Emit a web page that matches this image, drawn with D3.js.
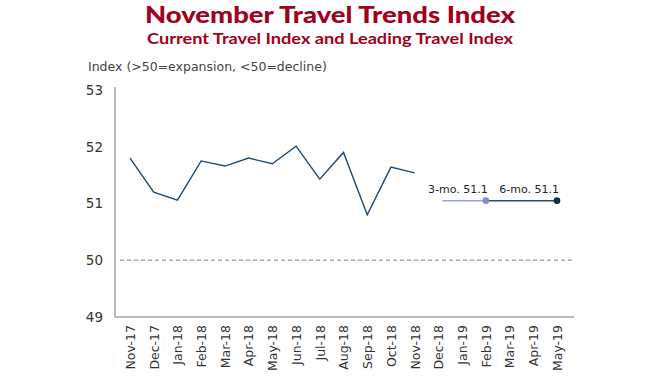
<!DOCTYPE html>
<html>
<head>
<meta charset="utf-8">
<script src="https://cdn.jsdelivr.net/npm/d3@7"></script>
<style>
  body { margin: 0; background: #fff; }
  svg { display: block; font-family: "DejaVu Sans", sans-serif; }
</style>
</head>
<body>
<svg width="661" height="376"></svg>
<script>
// months on the x axis
const months = ["Nov-17", "Dec-17", "Jan-18", "Feb-18", "Mar-18", "Apr-18", "May-18", "Jun-18",
  "Jul-18", "Aug-18", "Sep-18", "Oct-18", "Nov-18", "Dec-18", "Jan-19", "Feb-19", "Mar-19", "Apr-19", "May-19"];

// current travel index, Nov-17 .. Nov-18
const currentMonths = months.slice(0, 13);
const currentValues = [51.80, 51.20, 51.06, 51.75, 51.66, 51.80, 51.70, 52.01, 51.43, 51.90, 50.80, 51.64, 51.54];

// leading travel index
const leadMonths = ["Dec-18", "Feb-19", "May-19"];
const leadValues = [51.05, 51.05, 51.05];
const leadLabels = ["", "3-mo. 51.1", "6-mo. 51.1"];

const yTicks = [49, 50, 51, 52, 53];

const width = 661;
const height = 376;
const margin = { left: 115, right: 87, top: 90, bottom: 59 };

const svg = d3.select("svg");
const g = svg.append("g");

// titles
svg.append("text")
  .attr("x", 330).attr("y", 23)
  .attr("text-anchor", "middle")
  .attr("fill", "#a0001c")
  .attr("textLength", 370)
  .attr("lengthAdjust", "spacingAndGlyphs")
  .style("font-family", "Lato, sans-serif")
  .style("font-weight", "900")
  .style("font-size", "22px")
  .text("November Travel Trends Index");

svg.append("text")
  .attr("x", 330).attr("y", 44)
  .attr("text-anchor", "middle")
  .attr("fill", "#a0001c")
  .attr("textLength", 366)
  .attr("lengthAdjust", "spacingAndGlyphs")
  .style("font-family", "Lato, sans-serif")
  .style("font-weight", "700")
  .style("font-size", "15px")
  .text("Current Travel Index and Leading Travel Index");

svg.append("text")
  .attr("x", 88).attr("y", 71)
  .attr("fill", "#444")
  .style("font-size", "12.5px")
  .text("Index (>50=expansion, <50=decline)");

// scales
const x = d3.scalePoint()
  .domain(months)
  .range([130, 557]);

const y = d3.scaleLinear()
  .domain([49, 53])
  .range([height - margin.bottom, margin.top]);

// axes
const yAxis = g.append("g")
  .attr("transform", `translate(${margin.left}, 0)`)
  .call(d3.axisLeft(y).tickValues(yTicks).tickSize(0).tickPadding(12).tickFormat(d3.format("d")));
yAxis.select(".domain").attr("stroke", "#777").attr("d", `M0,${y(53) - 3}V${y(49)}`);
yAxis.selectAll("text").attr("fill", "#333").style("font-size", "13.5px").style("font-family", "DejaVu Sans, sans-serif");

const xAxis = g.append("g")
  .attr("transform", `translate(0, ${y(49)})`)
  .call(d3.axisBottom(x).tickSize(0).tickPadding(8));
xAxis.select(".domain").attr("stroke", "#777").attr("d", `M${margin.left},0H${width - margin.right}`);
xAxis.selectAll("text")
  .attr("fill", "#333")
  .style("font-size", "12.5px")
  .style("font-family", "DejaVu Sans, sans-serif")
  .attr("text-anchor", "end")
  .attr("transform", "rotate(-90)")
  .attr("x", -8)
  .attr("y", 0)
  .attr("dy", "0.35em");

// 50 reference line
g.append("line")
  .attr("x1", margin.left + 5).attr("x2", width - margin.right)
  .attr("y1", y(50)).attr("y2", y(50))
  .attr("stroke", "#aaa")
  .attr("stroke-width", 1.3)
  .attr("stroke-dasharray", "4,3");

// current index line
const line = d3.line()
  .x(function (d, i) { return x(currentMonths[i]); })
  .y(function (d) { return y(d); });

g.append("path")
  .datum(currentValues)
  .attr("fill", "none")
  .attr("stroke", "#1f4a72")
  .attr("stroke-width", 1.4)
  .attr("d", line);

// leading index segments
g.append("line")
  .attr("x1", x(leadMonths[0]) + 4).attr("x2", x(leadMonths[1]))
  .attr("y1", y(leadValues[0])).attr("y2", y(leadValues[1]))
  .attr("stroke", "#9aa6d6")
  .attr("stroke-width", 1.5);

g.append("line")
  .attr("x1", x(leadMonths[1])).attr("x2", x(leadMonths[2]))
  .attr("y1", y(leadValues[1])).attr("y2", y(leadValues[2]))
  .attr("stroke", "#2b4a6e")
  .attr("stroke-width", 1.5);

const dotColors = ["none", "#7f8fcc", "#0f2b4f"];
leadMonths.forEach(function (m, i) {
  if (i === 0) return;
  g.append("circle")
    .attr("cx", x(m)).attr("cy", y(leadValues[i]))
    .attr("r", 3.3)
    .attr("fill", dotColors[i]);
  g.append("text")
    .attr("x", x(m) + 2).attr("y", y(leadValues[i]) - 8)
    .attr("text-anchor", "end")
    .attr("fill", "#222")
    .style("font-size", "11px")
    .text(leadLabels[i]);
});
</script>
</body>
</html>
